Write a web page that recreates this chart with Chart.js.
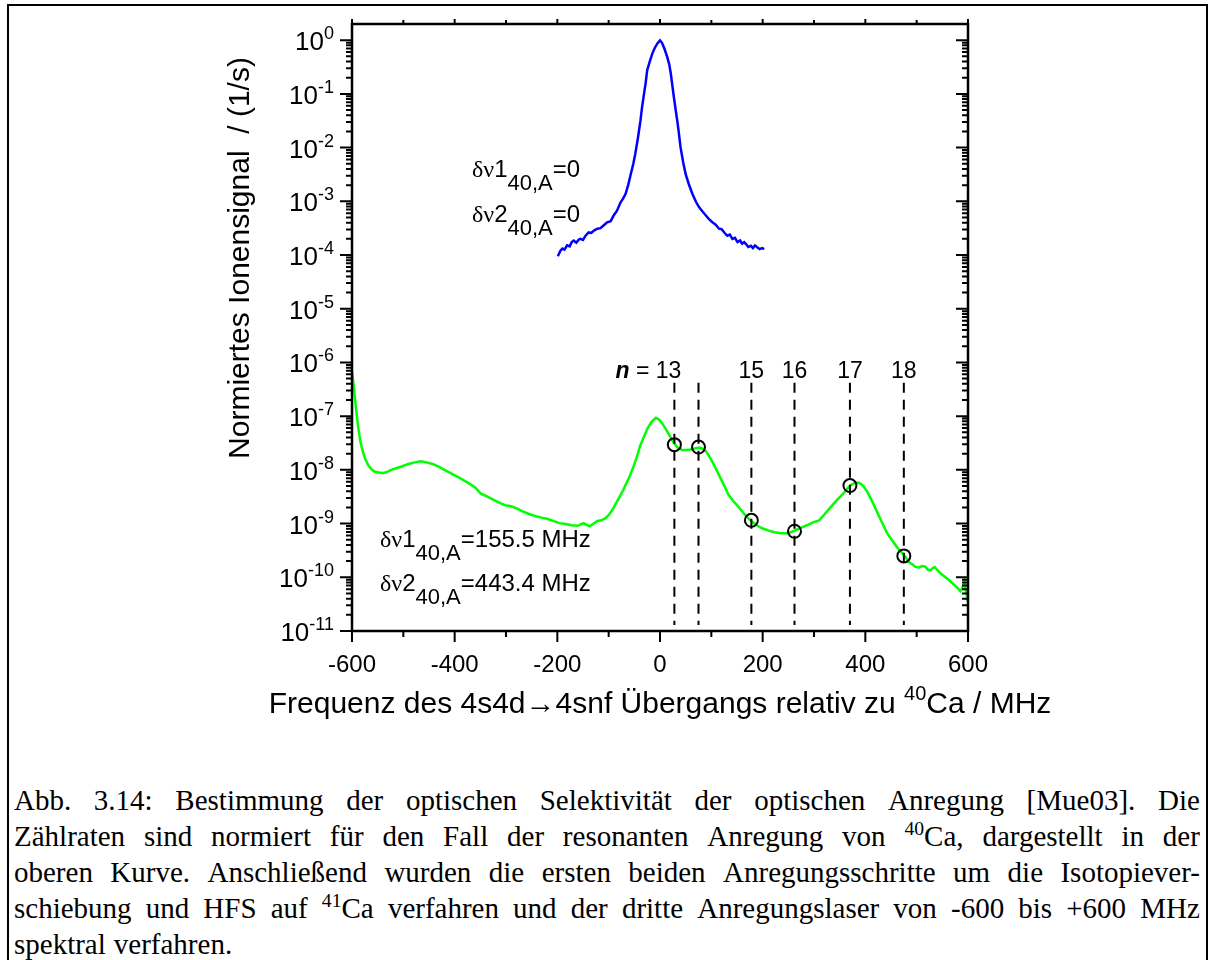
<!DOCTYPE html>
<html>
<head>
<meta charset="utf-8">
<script src="https://cdn.jsdelivr.net/npm/chart.js@4.4.1/dist/chart.umd.min.js"></script>
<style>
  html, body { margin: 0; padding: 0; background: #fff; }
  body { width: 1210px; height: 960px; position: relative; overflow: hidden; }
  .frame { position: absolute; left: 7px; top: 4px; width: 1201px; height: 1000px; border: 2px solid #000; box-sizing: border-box; }
  #chartBox { position: absolute; left: 0; top: 0; width: 1210px; height: 740px; }
  .caption { position: absolute; left: 14px; top: 782px; width: 1186px; font-family: "Liberation Serif", "DejaVu Serif", serif; font-size: 29px; line-height: 36px; color: #000; }
  .caption .line { display: flex; justify-content: space-between; white-space: nowrap; }
  .caption .line.last { justify-content: flex-start; gap: 8px; }
  .caption sup { font-size: 0.68em; line-height: 0; vertical-align: 0.55em; }
</style>
</head>
<body>
<div class="frame"></div>
<div id="chartBox"><canvas id="chart" width="1210" height="740"></canvas></div>
<div class="caption" id="caption"></div>
<script>
// resonant 40Ca curve (upper, blue)
const blueFreq = [
    -199, -194, -190, -186, -181, -176, -172, -168, -163, -158,
    -155, -150, -145, -139, -134, -128, -122, -116, -110, -103,
    -96, -90, -84, -77, -72, -67, -62, -57, -52, -48,
    -43, -38, -35, -31, -28, -25, -20, -15, -10, -5,
    0, 4, 9, 14, 18, 21, 24, 27, 31, 34,
    37, 40, 45, 50, 56, 63, 70, 76, 82, 89,
    95, 102, 108, 115, 120, 126, 131, 136, 141, 146,
    151, 156, 160, 164, 168, 172, 177, 181, 185, 190,
    194, 199, 203
];
const blueSignal = [
    9.5e-5, 1.2e-4, 1.32e-4, 1.26e-4, 1.51e-4, 1.45e-4, 1.74e-4, 1.86e-4, 1.7e-4, 1.95e-4,
    2.0e-4, 1.91e-4, 2.29e-4, 2.63e-4, 2.57e-4, 2.88e-4, 3.09e-4, 3.16e-4, 3.55e-4, 4.07e-4,
    4.27e-4, 5.5e-4, 6.6e-4, 9.5e-4, 1.12e-3, 1.38e-3, 2.0e-3, 3.2e-3, 5.0e-3, 7.8e-3,
    1.51e-2, 3.2e-2, 5.6e-2, 0.102, 0.158, 0.275, 0.398, 0.562, 0.724, 0.871,
    0.99, 0.891, 0.676, 0.49, 0.355, 0.24, 0.145, 0.087, 0.047, 0.030,
    0.0178, 0.0102, 5.4e-3, 3.2e-3, 2.1e-3, 1.38e-3, 9.8e-4, 7.8e-4, 6.6e-4, 5.5e-4,
    4.7e-4, 4.07e-4, 3.7e-4, 3.09e-4, 3.02e-4, 2.57e-4, 2.29e-4, 2.4e-4, 2.0e-4, 2.09e-4,
    1.74e-4, 1.86e-4, 1.62e-4, 1.74e-4, 1.58e-4, 1.41e-4, 1.48e-4, 1.35e-4, 1.51e-4, 1.38e-4,
    1.29e-4, 1.35e-4, 1.29e-4
];

// 41Ca detuned scan (lower, green)
const greenFreq = [
    -600, -596, -592, -588, -584, -580, -575, -568, -562, -556,
    -548, -540, -532, -524, -514, -502, -490, -478, -466, -455,
    -443, -431, -420, -408, -396, -384, -372, -360, -349, -337,
    -325, -313, -302, -290, -278, -266, -255, -243, -231, -220,
    -208, -196, -184, -172, -161, -149, -143, -137, -129, -122,
    -114, -106, -98, -90, -82, -74, -66, -59, -51, -45,
    -39, -31, -24, -16, -8, -2, 4, 12, 19, 26,
    34, 43, 51, 59, 67, 77, 84, 90, 98, 106,
    113, 123, 133, 143, 153, 164, 176, 188, 200, 212,
    223, 235, 247, 255, 262, 274, 286, 298, 310, 321,
    333, 345, 357, 366, 372, 380, 388, 396, 404, 415,
    427, 435, 443, 452, 462, 470, 478, 485, 490, 497,
    504, 510, 517, 522, 527, 531, 535, 541, 548, 556,
    564, 572, 580, 585, 589, 593, 597, 600
];
const greenSignal = [
    6.9e-7, 3.2e-7, 1.32e-7, 6.3e-8, 3.5e-8, 2.4e-8, 1.66e-8, 1.2e-8, 1.02e-8, 9.3e-9,
    8.9e-9, 8.7e-9, 9.1e-9, 1.0e-8, 1.07e-8, 1.17e-8, 1.29e-8, 1.38e-8, 1.45e-8, 1.38e-8,
    1.29e-8, 1.15e-8, 1.0e-8, 8.7e-9, 7.6e-9, 6.5e-9, 5.6e-9, 4.7e-9, 3.6e-9, 3.2e-9,
    2.8e-9, 2.45e-9, 2.2e-9, 2.1e-9, 1.9e-9, 1.66e-9, 1.51e-9, 1.38e-9, 1.29e-9, 1.23e-9,
    1.12e-9, 1.02e-9, 9.8e-10, 9.3e-10, 9.1e-10, 1.02e-9, 9.5e-10, 8.9e-10, 1.0e-9, 1.12e-9,
    1.15e-9, 1.26e-9, 1.51e-9, 2.0e-9, 2.75e-9, 3.8e-9, 5.5e-9, 7.6e-9, 1.2e-8, 1.74e-8,
    2.75e-8, 4.2e-8, 6.0e-8, 7.9e-8, 9.3e-8, 8.7e-8, 7.4e-8, 5.6e-8, 4.3e-8, 3.3e-8,
    2.6e-8, 2.35e-8, 2.35e-8, 2.4e-8, 2.5e-8, 2.6e-8, 2.45e-8, 2.2e-8, 1.66e-8, 1.2e-8,
    8.7e-9, 5.6e-9, 3.5e-9, 2.6e-9, 2.05e-9, 1.51e-9, 1.15e-9, 9.3e-10, 8.1e-10, 7.4e-10,
    6.9e-10, 6.6e-10, 6.6e-10, 6.9e-10, 7.4e-10, 8.3e-10, 9.3e-10, 1.05e-9, 1.15e-9, 1.51e-9,
    2.05e-9, 2.75e-9, 3.6e-9, 4.6e-9, 5.2e-9, 5.75e-9, 5.75e-9, 5.0e-9, 3.9e-9, 2.4e-9,
    1.35e-9, 9.3e-10, 6.5e-10, 4.9e-10, 3.6e-10, 2.95e-10, 2.4e-10, 1.9e-10, 1.78e-10, 1.58e-10,
    1.51e-10, 1.62e-10, 1.58e-10, 1.38e-10, 1.35e-10, 1.48e-10, 1.55e-10, 1.35e-10, 1.15e-10, 1.0e-10,
    8.7e-11, 7.4e-11, 6.3e-11, 5.5e-11, 6.3e-11, 8.1e-11, 5.0e-11, 3.5e-11
];

// Rydberg states n and their marked positions
const markFreq = [28, 75, 178, 262, 370, 475];
const markSignal = [2.95e-8, 2.66e-8, 1.15e-9, 7.2e-10, 5.1e-9, 2.5e-10];
const nLabels = ['13', '', '15', '16', '17', '18'];
const dashTop = 4.2e-7;
const dashBottom = 1.3e-11;

// axes
const xMin = -600, xMax = 600;
const yMin = 1e-11, yMax = 2;
const xTicks = [-600, -400, -200, 0, 200, 400, 600];
const xMinorTicks = [-500, -300, -100, 100, 300, 500];
const yExponents = [0, -1, -2, -3, -4, -5, -6, -7, -8, -9, -10, -11];

// caption, one entry per printed line
const captionLines = [
    'Abb. 3.14: Bestimmung der optischen Selektivität der optischen Anregung [Mue03]. Die',
    'Zählraten sind normiert für den Fall der resonanten Anregung von <sup>40</sup>Ca, dargestellt in der',
    'oberen Kurve. Anschließend wurden die ersten beiden Anregungsschritte um die Isotopiever-',
    'schiebung und HFS auf <sup>41</sup>Ca verfahren und der dritte Anregungslaser von -600 bis +600 MHz',
    'spektral verfahren.'
];

const SANS = '"Liberation Sans", Arial, sans-serif';
const SERIF = '"Liberation Serif", "Times New Roman", serif';

function buildCaption() {
    const box = document.getElementById('caption');
    captionLines.forEach((line, i) => {
        const div = document.createElement('div');
        div.className = 'line' + (i === captionLines.length - 1 ? ' last' : '');
        line.split(' ').forEach(word => {
            const span = document.createElement('span');
            span.innerHTML = word;
            div.appendChild(span);
        });
        box.appendChild(div);
    });
}
buildCaption();

function toPoints(xs, ys) {
    return xs.map((v, i) => ({x: v, y: ys[i]}));
}

// draws a row of text pieces, each {t, font, dy}
function drawRuns(ctx, x, y, runs, align) {
    let total = 0;
    runs.forEach(r => { ctx.font = r.font; r.w = ctx.measureText(r.t).width; total += r.w; });
    let cx = x;
    if (align === 'center') cx = x - total / 2;
    if (align === 'right') cx = x - total;
    ctx.textAlign = 'left';
    ctx.textBaseline = 'alphabetic';
    runs.forEach(r => {
        ctx.font = r.font;
        ctx.fillText(r.t, cx, y + (r.dy || 0));
        cx += r.w;
    });
}

function deltaLabel(ctx, x, y, idx, value) {
    drawRuns(ctx, x, y, [
        {t: 'δν', font: '24px ' + SERIF},
        {t: idx, font: '24px ' + SANS},
        {t: '40,A', font: '22px ' + SANS, dy: 13},
        {t: '=' + value, font: '24px ' + SANS}
    ]);
}

const axisPlugin = {
    id: 'axisFrame',
    afterDraw(chart) {
        const ctx = chart.ctx;
        const a = chart.chartArea;
        const xs = chart.scales.x;
        const ys = chart.scales.y;
        ctx.save();
        ctx.strokeStyle = '#000';
        ctx.fillStyle = '#000';

        // frame
        ctx.lineWidth = 2.5;
        ctx.strokeRect(a.left, a.top, a.right - a.left, a.bottom - a.top);

        // x ticks: outward on bottom and top
        ctx.lineWidth = 2;
        ctx.beginPath();
        xTicks.forEach(v => {
            const px = xs.getPixelForValue(v);
            ctx.moveTo(px, a.bottom); ctx.lineTo(px, a.bottom + 11);
            ctx.moveTo(px, a.top); ctx.lineTo(px, a.top - 5);
        });
        xMinorTicks.forEach(v => {
            const px = xs.getPixelForValue(v);
            ctx.moveTo(px, a.bottom); ctx.lineTo(px, a.bottom + 6);
            ctx.moveTo(px, a.top); ctx.lineTo(px, a.top - 4);
        });
        // y ticks: outward on left, inward on right
        yExponents.forEach(e => {
            const py = ys.getPixelForValue(Math.pow(10, e));
            ctx.moveTo(a.left - 12, py); ctx.lineTo(a.left, py);
            ctx.moveTo(a.right - 12, py); ctx.lineTo(a.right, py);
            for (let m = 2; m <= 9; m++) {
                const v = m * Math.pow(10, e);
                if (v >= yMax) continue;
                const pm = ys.getPixelForValue(v);
                ctx.moveTo(a.left - 6, pm); ctx.lineTo(a.left, pm);
                ctx.moveTo(a.right - 6, pm); ctx.lineTo(a.right, pm);
            }
        });
        ctx.stroke();

        // x tick labels
        ctx.font = '24px ' + SANS;
        ctx.textAlign = 'center';
        ctx.textBaseline = 'alphabetic';
        xTicks.forEach(v => {
            ctx.fillText(String(v), xs.getPixelForValue(v), a.bottom + 41);
        });

        // y tick labels 10^n
        yExponents.forEach(e => {
            const py = ys.getPixelForValue(Math.pow(10, e));
            drawRuns(ctx, a.left - 18, py + 10, [
                {t: '10', font: '26px ' + SANS},
                {t: String(e), font: '18px ' + SANS, dy: -11}
            ], 'right');
        });

        // axis titles
        drawRuns(ctx, (a.left + a.right) / 2, 713, [
            {t: 'Frequenz des 4s4d\u2192', font: '30px ' + SANS},
            {t: '4snf Übergangs relativ zu ', font: '30px ' + SANS},
            {t: '40', font: '20px ' + SANS, dy: -13},
            {t: 'Ca / MHz', font: '30px ' + SANS}
        ], 'center');

        ctx.save();
        ctx.translate(249, 258);
        ctx.rotate(-Math.PI / 2);
        drawRuns(ctx, 0, 0, [{t: 'Normiertes Ionensignal  / (1/s)', font: '30px ' + SANS}], 'center');
        ctx.restore();

        // n labels above the dashed lines
        markFreq.forEach((f, i) => {
            if (!nLabels[i]) return;
            const px = xs.getPixelForValue(f);
            if (i === 0) {
                drawRuns(ctx, px + 7, 378, [
                    {t: 'n', font: 'italic bold 23px ' + SANS},
                    {t: ' = ' + nLabels[i], font: '23px ' + SANS}
                ], 'right');
            } else {
                drawRuns(ctx, px, 378, [{t: nLabels[i], font: '23px ' + SANS}], 'center');
            }
        });

        // detuning annotations
        deltaLabel(ctx, 472, 177, '1', '0');
        deltaLabel(ctx, 472, 222, '2', '0');
        deltaLabel(ctx, 380, 547, '1', '155.5 MHz');
        deltaLabel(ctx, 380, 591, '2', '443.4 MHz');

        ctx.restore();
    }
};

const datasets = [];
datasets.push({
    data: toPoints(markFreq, markSignal),
    showLine: false,
    pointRadius: 6.5,
    pointBorderWidth: 2,
    pointBorderColor: '#000',
    pointBackgroundColor: 'rgba(0,0,0,0)'
});
markFreq.forEach(f => {
    datasets.push({
        data: [{x: f, y: dashTop}, {x: f, y: dashBottom}],
        borderColor: '#000',
        borderWidth: 2,
        borderDash: [10, 7],
        pointRadius: 0
    });
});
datasets.push({
    data: toPoints(blueFreq, blueSignal),
    borderColor: '#0000ff',
    borderWidth: 2.5,
    pointRadius: 0
});
datasets.push({
    data: toPoints(greenFreq, greenSignal),
    borderColor: '#00ff00',
    borderWidth: 2.5,
    pointRadius: 0
});

new Chart(document.getElementById('chart').getContext('2d'), {
    type: 'line',
    data: {datasets},
    options: {
        responsive: false,
        animation: false,
        devicePixelRatio: 1,
        layout: {padding: {left: 352, right: 242, top: 24, bottom: 109}},
        plugins: {legend: {display: false}, tooltip: {enabled: false}},
        scales: {
            x: {type: 'linear', min: xMin, max: xMax, display: false},
            y: {type: 'logarithmic', min: yMin, max: yMax, display: false}
        }
    },
    plugins: [axisPlugin]
});
</script>
</body>
</html>
